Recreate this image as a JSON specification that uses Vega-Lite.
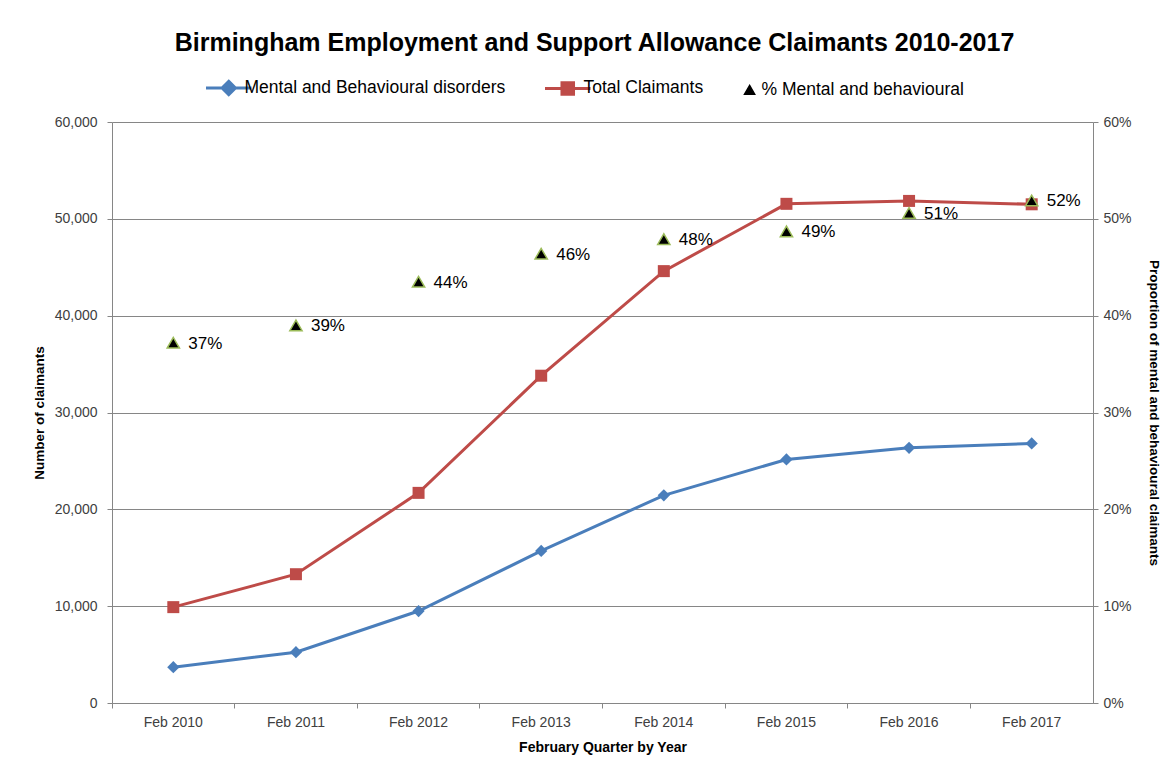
{
  "$schema": "https://vega.github.io/schema/vega-lite/v6.json",
  "width": 981,
  "height": 581,
  "autosize": {"type": "none"},
  "padding": {"left": 112, "top": 122, "right": 77, "bottom": 66},
  "background": "white",
  "config": {"view": {"stroke": null}, "font": "Liberation Sans"},
  "title": {
    "text": "Birmingham Employment and Support Allowance Claimants 2010-2017",
    "fontSize": 25,
    "fontWeight": "bold",
    "font": "Liberation Sans",
    "color": "#000000",
    "anchor": "middle",
    "frame": "group",
    "offset": 23,
    "dx": -8
  },
  "data": {
    "values": [
      {"year": "Feb 2010", "series": "Mental and Behavioural disorders", "value": 3700},
      {"year": "Feb 2011", "series": "Mental and Behavioural disorders", "value": 5250},
      {"year": "Feb 2012", "series": "Mental and Behavioural disorders", "value": 9500},
      {"year": "Feb 2013", "series": "Mental and Behavioural disorders", "value": 15700},
      {"year": "Feb 2014", "series": "Mental and Behavioural disorders", "value": 21450},
      {"year": "Feb 2015", "series": "Mental and Behavioural disorders", "value": 25150},
      {"year": "Feb 2016", "series": "Mental and Behavioural disorders", "value": 26350},
      {"year": "Feb 2017", "series": "Mental and Behavioural disorders", "value": 26800},
      {"year": "Feb 2010", "series": "Total Claimants", "value": 9900},
      {"year": "Feb 2011", "series": "Total Claimants", "value": 13300},
      {"year": "Feb 2012", "series": "Total Claimants", "value": 21700},
      {"year": "Feb 2013", "series": "Total Claimants", "value": 33800},
      {"year": "Feb 2014", "series": "Total Claimants", "value": 44600},
      {"year": "Feb 2015", "series": "Total Claimants", "value": 51550},
      {"year": "Feb 2016", "series": "Total Claimants", "value": 51850},
      {"year": "Feb 2017", "series": "Total Claimants", "value": 51500},
      {"year": "Feb 2010", "series": "% Mental and behavioural", "value": 0.372},
      {"year": "Feb 2011", "series": "% Mental and behavioural", "value": 0.390},
      {"year": "Feb 2012", "series": "% Mental and behavioural", "value": 0.435},
      {"year": "Feb 2013", "series": "% Mental and behavioural", "value": 0.464},
      {"year": "Feb 2014", "series": "% Mental and behavioural", "value": 0.479},
      {"year": "Feb 2015", "series": "% Mental and behavioural", "value": 0.487},
      {"year": "Feb 2016", "series": "% Mental and behavioural", "value": 0.506},
      {"year": "Feb 2017", "series": "% Mental and behavioural", "value": 0.519}
    ]
  },
  "encoding": {
    "x": {
      "field": "year",
      "type": "ordinal",
      "sort": null,
      "scale": {"type": "band", "paddingInner": 0, "paddingOuter": 0},
      "axis": {
        "title": "February Quarter by Year",
        "titleFontSize": 14,
        "titleFontWeight": "bold",
        "titleColor": "#000000",
        "titlePadding": 11,
        "labelAngle": 0,
        "labelFontSize": 14,
        "labelColor": "#404040",
        "labelPadding": 7,
        "bandPosition": 0,
        "tickSize": 5,
        "tickColor": "#868686",
        "domainColor": "#868686",
        "grid": false
      }
    }
  },
  "layer": [
    {
      "transform": [{"filter": "datum.series !== '% Mental and behavioural'"}],
      "encoding": {
        "y": {
          "field": "value",
          "type": "quantitative",
          "scale": {"domain": [0, 60000], "nice": false},
          "axis": {
            "title": "Number of claimants",
            "titleFontSize": 13.5,
            "titleFontWeight": "bold",
            "titleColor": "#000000",
            "titlePadding": 8,
            "labelFontSize": 14,
            "labelColor": "#404040",
            "labelPadding": 10,
            "format": ",.0f",
            "values": [0, 10000, 20000, 30000, 40000, 50000, 60000],
            "grid": true,
            "gridColor": "#868686",
            "domainColor": "#868686",
            "tickColor": "#868686",
            "tickSize": 5
          }
        },
        "color": {
          "field": "series",
          "type": "nominal",
          "scale": {
            "domain": ["Mental and Behavioural disorders", "Total Claimants", "% Mental and behavioural"],
            "range": ["#4A7EBB", "#BE4B48", "#000000"]
          },
          "legend": {
            "title": null,
            "orient": "none",
            "direction": "horizontal",
            "legendX": 108,
            "legendY": -43,
            "padding": 0,
            "labelFontSize": 17.5,
            "labelColor": "#000000",
            "labelLimit": 0,
            "labelOffset": 7,
            "columnPadding": 33,
            "symbolSize": 1225,
            "encode": {
              "symbols": {
                "update": {
                  "shape": {"signal": "datum.value === 'Total Claimants' ? 'M-1.3,0H1.3M-0.33,-0.33H0.33V0.33H-0.33Z' : datum.value === 'Mental and Behavioural disorders' ? 'M-1.3,0H1.3M0,-0.38L0.38,0L0,0.38L-0.38,0Z' : 'M0.22,-0.27L0.51,0.24L-0.07,0.24Z'"},
                  "fill": {"signal": "datum.value === '% Mental and behavioural' ? '#000000' : scale('color', datum.value)"},
                  "stroke": {"signal": "datum.value === '% Mental and behavioural' ? '#9BBB59' : scale('color', datum.value)"},
                  "strokeWidth": {"signal": "datum.value === '% Mental and behavioural' ? 1.5 : 3"},
                  "opacity": {"value": 1},
                  "fillOpacity": {"value": 1}
                }
              }
            }
          }
        }
      },
      "layer": [
        {"mark": {"type": "line", "strokeWidth": 3}},
        {
          "mark": {"type": "point", "filled": true, "opacity": 1},
          "encoding": {
            "shape": {
              "field": "series",
              "type": "nominal",
              "scale": {"domain": ["Mental and Behavioural disorders", "Total Claimants"], "range": ["diamond", "square"]},
              "legend": null
            },
            "size": {
              "field": "series",
              "type": "nominal",
              "scale": {"domain": ["Mental and Behavioural disorders", "Total Claimants"], "range": [150, 144]},
              "legend": null
            }
          }
        }
      ]
    },
    {
      "transform": [{"filter": "datum.series === '% Mental and behavioural'"}],
      "encoding": {
        "y": {
          "field": "value",
          "type": "quantitative",
          "scale": {"domain": [0, 0.6], "nice": false},
          "axis": {
            "orient": "right",
            "title": "Proportion of mental and behavioural claimants",
            "titleFontSize": 13.5,
            "titleFontWeight": "bold",
            "titleColor": "#000000",
            "titlePadding": 15,
            "labelFontSize": 14,
            "labelColor": "#404040",
            "labelPadding": 5,
            "format": ".0%",
            "values": [0, 0.1, 0.2, 0.3, 0.4, 0.5, 0.6],
            "grid": false,
            "domainColor": "#868686",
            "tickColor": "#868686",
            "tickSize": 5
          }
        }
      },
      "layer": [
        {
          "mark": {"type": "point", "filled": true, "shape": "triangle-up", "size": 150, "fill": "#000000", "stroke": "#9BBB59", "strokeWidth": 1.5, "opacity": 1},
          "encoding": {"color": {"field": "series", "type": "nominal"}}
        },
        {
          "mark": {"type": "text", "align": "left", "baseline": "middle", "dx": 15, "dy": 1, "fontSize": 17, "color": "#000000"},
          "encoding": {"text": {"field": "value", "type": "quantitative", "format": ".0%"}}
        }
      ]
    }
  ],
  "resolve": {"scale": {"y": "independent"}}
}
